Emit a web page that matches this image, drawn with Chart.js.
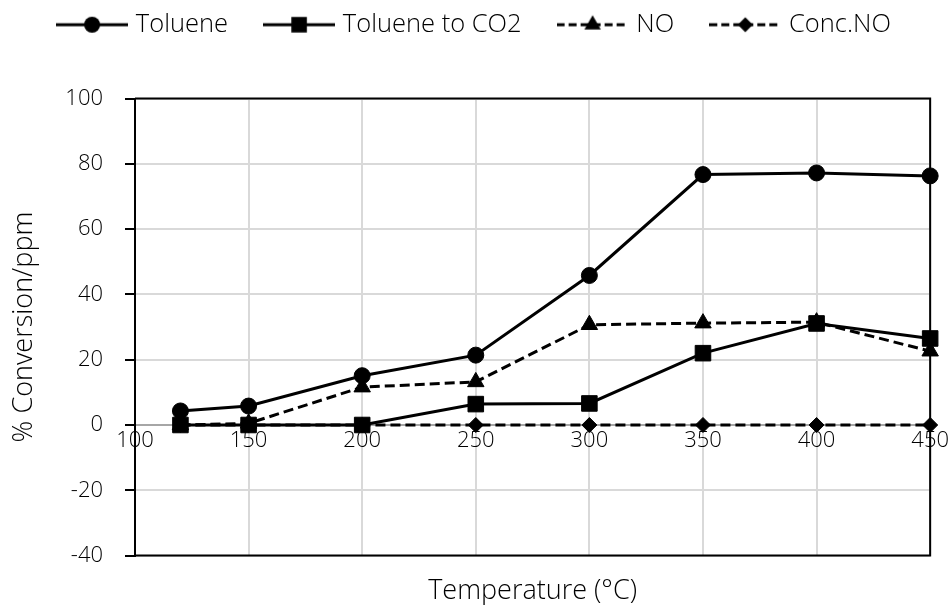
<!DOCTYPE html>
<html>
<head>
<meta charset="utf-8">
<script src="https://cdn.jsdelivr.net/npm/chart.js@4.4.1/dist/chart.umd.min.js"></script>
<style>
  html, body { margin: 0; padding: 0; background: #fff; }
</style>
</head>
<body>
<canvas id="chart" width="952" height="605"></canvas>
<script>
const temps = [120, 150, 200, 250, 300, 350, 400, 450];
const toluene = [4.3, 5.8, 15.1, 21.4, 45.8, 76.7, 77.2, 76.3];
const tolueneCO2 = [0, 0, 0, 6.4, 6.6, 22.0, 31.1, 26.5];
const no = [0, 0.5, 11.6, 13.2, 30.7, 31.2, 31.5, 22.6];
const concNO = [0, 0, 0, 0, 0, 0, 0, 0];

const seriesNames = ['Toluene', 'Toluene to CO2', 'NO', 'Conc.NO'];
const xMin = 100, xMax = 450, xStep = 50;
const yMin = -40, yMax = 100, yStep = 20;

const FONT = "'Open Sans', 'Noto Sans', sans-serif";
const W = 300;

function pts(vals){ return temps.map((t, i) => ({x: t, y: vals[i]})); }

function series(label, vals, style, radius, dash){
  return {
    label, data: pts(vals),
    borderColor: '#000', backgroundColor: '#000', borderWidth: 3, borderDash: dash,
    pointStyle: style, pointRadius: radius, pointHoverRadius: radius,
    pointBackgroundColor: '#000', pointBorderColor: '#000', pointBorderWidth: 1,
    tension: 0, clip: false
  };
}

// small canvas with a line sample and the marker, used as the legend symbol
function legendIcon(ds){
  const c = document.createElement('canvas');
  c.width = 72; c.height = 22;
  const g = c.getContext('2d');
  g.strokeStyle = '#000'; g.fillStyle = '#000'; g.lineWidth = 3;
  g.setLineDash(ds.borderDash.length ? [8, 4] : []);
  g.beginPath(); g.moveTo(0, 11); g.lineTo(72, 11); g.stroke();
  g.setLineDash([]);
  Chart.helpers.drawPoint(g, {pointStyle: ds.pointStyle, radius: ds.pointRadius, borderWidth: 0}, 36, 11);
  return c;
}

const frame = {
  id: 'frame',
  beforeDatasetsDraw(chart){
    const {ctx, chartArea: a} = chart;
    ctx.save();
    ctx.strokeStyle = '#000'; ctx.lineWidth = 2;
    ctx.beginPath();
    ctx.moveTo(a.left, a.top); ctx.lineTo(a.right, a.top);
    ctx.lineTo(a.right, a.bottom); ctx.lineTo(a.left, a.bottom);
    ctx.stroke();
    ctx.restore();
  }
};

// keep the legend on one row and leave a gap below it
const legendSpace = {
  id: 'legendSpace',
  beforeInit(chart){
    const fit = chart.legend.fit;
    chart.legend.fit = function(){
      this.maxWidth = 960;
      fit.call(this);
      this.height += 51;
    };
  }
};

const datasets = [
  series(seriesNames[0], toluene, 'circle', 8, []),
  series(seriesNames[1], tolueneCO2, 'rect', 11, []),
  series(seriesNames[2], no, 'triangle', 9.5, [10, 5]),
  series(seriesNames[3], concNO, 'rectRot', 7.5, [10, 5])
];

new Chart(document.getElementById('chart').getContext('2d'), {
  type: 'line',
  data: {datasets},
  plugins: [frame, legendSpace],
  options: {
    responsive: false,
    animation: false,
    layout: {padding: {top: -28, left: 21, right: 21, bottom: 0}},
    plugins: {
      tooltip: {enabled: false},
      legend: {
        position: 'top',
        labels: {
          usePointStyle: true,
          pointStyleWidth: 62,
          padding: 40,
          color: '#000',
          font: {family: FONT, size: 25.5, weight: W},
          generateLabels(chart){
            return chart.data.datasets.map((ds, i) => ({
              text: ds.label, pointStyle: legendIcon(ds), datasetIndex: i,
              fillStyle: '#000', strokeStyle: '#000', lineWidth: 0, hidden: false, fontColor: '#000'
            }));
          }
        }
      }
    },
    scales: {
      x: {
        type: 'linear', min: xMin, max: xMax,
        position: {y: 0},
        ticks: {stepSize: xStep, color: '#000', padding: 3, font: {family: FONT, size: 22, weight: W}},
        grid: {color: '#d9d9d9', lineWidth: 2, drawTicks: false},
        border: {color: '#a6a6a6', width: 2}
      },
      xt: {
        type: 'linear', min: xMin, max: xMax, position: 'bottom', axis: 'x',
        ticks: {display: false},
        grid: {display: false, drawTicks: false},
        border: {display: false},
        title: {display: true, text: 'Temperature (°C)', color: '#000', font: {family: FONT, size: 27, weight: W}, padding: {top: 20, bottom: -3}}
      },
      y: {
        min: yMin, max: yMax,
        ticks: {stepSize: yStep, color: '#000', padding: 22, font: {family: FONT, size: 22, weight: W}},
        grid: {color: '#d9d9d9', lineWidth: 2, tickColor: '#000', tickLength: 10, tickWidth: 2},
        border: {color: '#000', width: 2},
        title: {display: true, text: '% Conversion/ppm', color: '#000', font: {family: FONT, size: 27, weight: W}, padding: {top: -13, bottom: 0}},
        afterFit(scale){ scale.width = 114; }
      }
    }
  }
});
</script>
</body>
</html>
